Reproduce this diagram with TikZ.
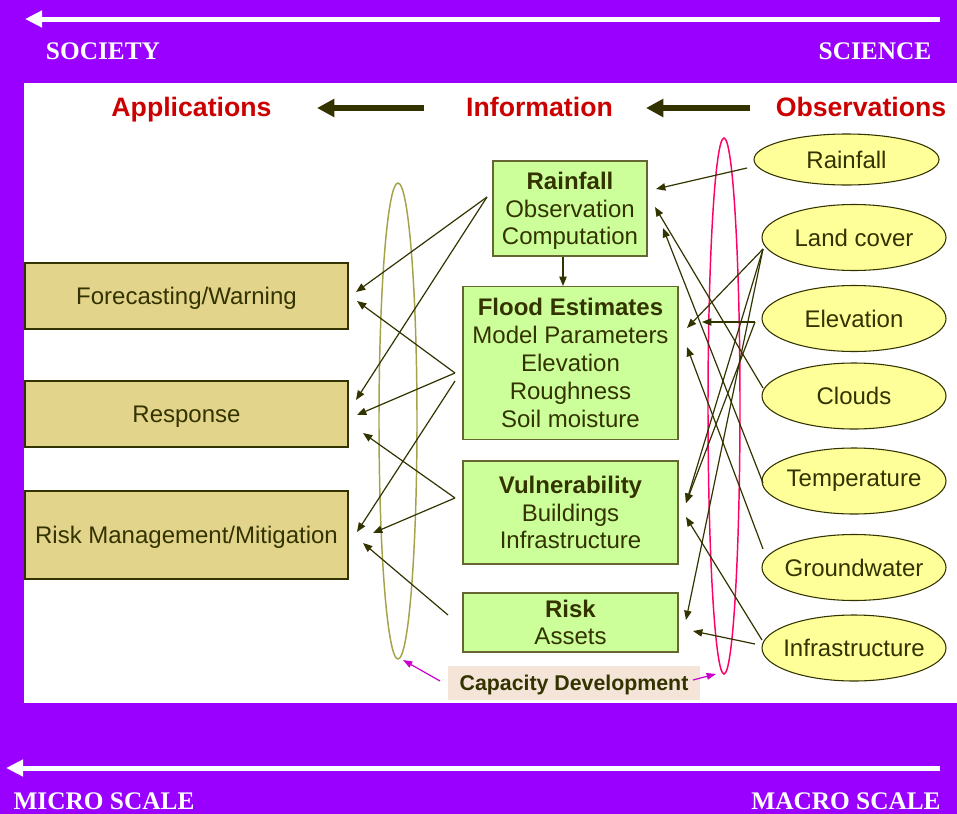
\documentclass[tikz,border=0pt]{standalone}
\usepackage{fontspec}
\setmainfont{Liberation Sans}
\newfontfamily\headserif{Liberation Serif}
\usetikzlibrary{arrows.meta,shapes.geometric}
\definecolor{purp}{HTML}{9900FF}
\definecolor{ink}{HTML}{333300}
\definecolor{boxgreen}{HTML}{CCFF99}
\definecolor{greenedge}{HTML}{666633}
\definecolor{tanfill}{HTML}{E3D48C}
\definecolor{ellyellow}{HTML}{FFFF99}
\definecolor{headred}{HTML}{CC0000}
\definecolor{loopolive}{HTML}{A3A34A}
\definecolor{looppink}{HTML}{FF0066}
\definecolor{capfill}{HTML}{F5E4D8}
\definecolor{capmag}{HTML}{CC00CC}
\newcommand{\zw}[1]{\makebox[0pt]{#1}}
\begin{document}
\begin{tikzpicture}[x=0.75pt,y=-0.75pt,
  appbox/.style={draw=ink, line width=1pt, fill=tanfill, text=ink, font=\fontsize{18}{21}\selectfont, inner sep=0pt, text depth=0pt, minimum width=242.25pt},
  infobox/.style={draw=greenedge, line width=1pt, fill=boxgreen, text=ink, align=center, inner sep=0pt, text depth=0pt},
  obsell/.style={ellipse, draw=ink, line width=0.8pt, fill=ellyellow, text=ink, font=\fontsize{18}{21}\selectfont, inner sep=0pt, minimum width=138pt, minimum height=49.5pt},
  link/.style={draw=ink, line width=0.9pt, -{Triangle[length=7pt,width=5.5pt]}},
  maglink/.style={draw=capmag, line width=0.9pt, -{Triangle[length=7pt,width=5pt]}},
  headtxt/.style={font=\bfseries\fontsize{20}{24}\selectfont, text=headred, anchor=base},
  bigarrow/.style={draw=ink, line width=4.5pt, -{Triangle[length=13pt,width=13pt]}},
  whitearrow/.style={draw=white, line width=3.75pt, -{Triangle[length=12.75pt,width=12pt]}},
  scalelabel/.style={text=white, font=\headserif\bfseries\fontsize{19}{22}\selectfont, anchor=base},
  loop/.style={ellipse, draw, line width=1.1pt, inner sep=0pt}
]
\useasboundingbox (0,0) rectangle (957,814);
\fill[purp] (0,0) rectangle (957,814);
\fill[white] (24,83) rectangle (957,703);

% scale arrows and labels
\coordinate (topR) at (940,19);
\coordinate (topL) at (25,19);
\coordinate (botR) at (940,768);
\coordinate (botL) at (6,768);
\draw[whitearrow] (topR) -- (topL);
\draw[whitearrow] (botR) -- (botL);
\node[scalelabel] (society) at (103,59.5) {SOCIETY};
\node[scalelabel] (science) at (875,59.5) {SCIENCE};
\node[scalelabel] (micro) at (104,809.5) {MICRO SCALE};
\node[scalelabel] (macro) at (846,809.5) {MACRO SCALE};

% headings
\node[headtxt] (applh) at (191.5,116) {Applications};
\node[headtxt] (infoh) at (539.5,116) {Information};
\node[headtxt] (obsh) at (861,116) {Observations};
\coordinate (a1s) at (424,108);
\coordinate (a1e) at (317,108);
\coordinate (a2s) at (750,108);
\coordinate (a2e) at (646,108);
\draw[bigarrow] (a1s) -- (a1e);
\draw[bigarrow] (a2s) -- (a2e);

% loops
\node[loop, draw=loopolive, minimum width=28.5pt, minimum height=357pt] (loopL) at (398,421) {};
\node[loop, draw=looppink, minimum width=24pt, minimum height=402pt] (loopR) at (724,406) {};

% application boxes
\node[appbox, minimum height=49.5pt] (fw) at (186.5,296) {Forecasting/Warning};
\node[appbox, minimum height=49.5pt] (rs) at (186.5,414) {Response};
\node[appbox, minimum height=66pt] (rm) at (186.5,535) {Risk Management/Mitigation};

% information boxes
\node[infobox, minimum width=115.5pt, minimum height=71.25pt, font=\fontsize{18}{20.6}\selectfont] (rainB) at (570,208.5) {\textbf{Rainfall}\\Observation\\Computation};
\node[infobox, minimum width=161.25pt, minimum height=114.75pt, font=\fontsize{18}{21}\selectfont] (floodB) at (570.5,363) {\textbf{Flood Estimates}\\Model Parameters\\Elevation\\Roughness\\Soil moisture};
\node[infobox, minimum width=161.25pt, minimum height=77.25pt, font=\fontsize{18}{20.6}\selectfont] (vulB) at (570.5,512.5) {\textbf{Vulnerability}\\Buildings\\Infrastructure};
\node[infobox, minimum width=161.25pt, minimum height=44.25pt, font=\fontsize{18}{20.3}\selectfont] (riskB) at (570.5,622.5) {\textbf{Risk}\\Assets};
\node[fill=capfill, text=ink, inner sep=0pt, text depth=0pt, minimum width=189pt, minimum height=25.5pt, font=\bfseries\fontsize{16}{19}\selectfont] (capB) at (574,683) {Capacity Development};

% observation ellipses
\node[obsell, minimum width=138.75pt, minimum height=38.25pt] (oRainE) at (846.5,159.5) {\zw{Rainfall}};
\node[obsell] (oLandE) at (854,237.5) {\zw{Land cover}};
\node[obsell] (oElevE) at (854,318.5) {\zw{Elevation}};
\node[obsell] (oCloudE) at (854,396) {\zw{Clouds}};
\node[obsell] (oTempE) at (854,481) {\zw{Temperature}};
\node[obsell] (oGroundE) at (854,567.5) {\zw{Groundwater}};
\node[obsell] (oInfraE) at (854,648) {\zw{Infrastructure}};

% connector end points
\coordinate (rbL) at (487,197);
\coordinate (feL1) at (455,373);
\coordinate (feL2) at (455,381);
\coordinate (vuL) at (455,498);
\coordinate (rkL) at (448,615);
\coordinate (fwA) at (356,292);
\coordinate (fwB) at (357,301);
\coordinate (rsA) at (356,400);
\coordinate (rsB) at (357,415);
\coordinate (rsC) at (363,433);
\coordinate (rmA) at (357,532);
\coordinate (rmB) at (373,533);
\coordinate (rmC) at (363,543);
\coordinate (rbS) at (563,257);
\coordinate (feN) at (563,286);
\coordinate (rbR1) at (656,189);
\coordinate (rbR2) at (655,207);
\coordinate (rbR3) at (663,228);
\coordinate (feR1) at (687,328);
\coordinate (feR2) at (702,322);
\coordinate (feR3) at (687,347);
\coordinate (vuR1) at (686,503);
\coordinate (vuR2) at (686,517);
\coordinate (rkR1) at (686,620);
\coordinate (rkR2) at (693,631);
\coordinate (oRain) at (747,168);
\coordinate (oLand) at (763,249);
\coordinate (oElev) at (755,322);
\coordinate (oCloud) at (763,388);
\coordinate (oTemp) at (763,483);
\coordinate (oGround) at (763,549);
\coordinate (oInfra1) at (762,640);
\coordinate (oInfra2) at (755,644);
\coordinate (capLs) at (440,681);
\coordinate (capLe) at (403,660);
\coordinate (capRs) at (693,680);
\coordinate (capRe) at (716,674);

% information -> applications
\draw[link] (rbL) -- (fwA);
\draw[link] (rbL) -- (rsA);
\draw[link] (feL1) -- (fwB);
\draw[link] (feL1) -- (rsB);
\draw[link] (feL2) -- (rmA);
\draw[link] (vuL) -- (rsC);
\draw[link] (vuL) -- (rmB);
\draw[link] (rkL) -- (rmC);
\draw[link] (rbS) -- (feN);

% observations -> information
\draw[link] (oRain) -- (rbR1);
\draw[link] (oCloud) -- (rbR2);
\draw[link] (oTemp) -- (rbR3);
\draw[link] (oGround) -- (feR3);
\draw[link] (oLand) -- (feR1);
\draw[link] (oLand) -- (vuR1);
\draw[link] (oLand) -- (rkR1);
\draw[link] (oElev) -- (feR2);
\draw[link] (oElev) -- (vuR1);
\draw[link] (oInfra1) -- (vuR2);
\draw[link] (oInfra2) -- (rkR2);

% capacity development
\draw[maglink] (capLs) -- (capLe);
\draw[maglink] (capRs) -- (capRe);
\end{tikzpicture}
\end{document}
